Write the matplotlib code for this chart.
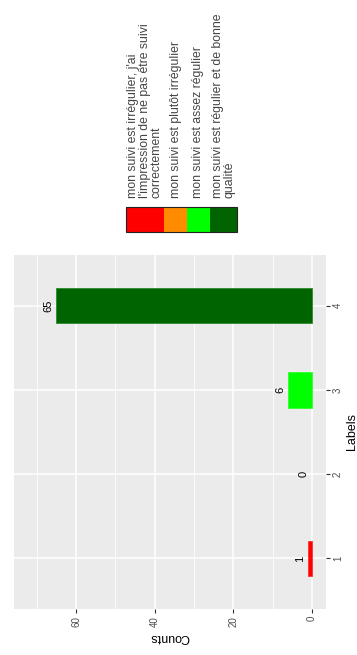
import matplotlib
matplotlib.use("Agg")
import matplotlib.pyplot as plt
from matplotlib.patches import Rectangle
from matplotlib.ticker import MultipleLocator

plt.rcParams['font.family'] = ['Liberation Sans', 'DejaVu Sans']

# data
labels = [1, 2, 3, 4]
counts = [1, 0, 6, 65]
bar_colors = ["#FF0000", "#FF8C00", "#00FF00", "#006400"]
legend_texts = [
    "mon suivi est irrégulier, j'ai\nl'impression de ne pas être suivi\ncorrectement",
    "mon suivi est plutôt irrégulier",
    "mon suivi est assez régulier",
    "mon suivi est régulier et de bonne\nqualité",
]

W, H = 357, 655
fig = plt.figure(figsize=(W / 100, H / 100), dpi=100)

# panel (the whole ggplot is turned a quarter turn, so counts run right -> left)
px0, px1, py0, py1 = 14, 326, 255, 609
ax = fig.add_axes([px0 / W, 1 - py1 / H, (px1 - px0) / W, (py1 - py0) / H])
ax.set_facecolor("#EBEBEB")
edges = ["#FF3030", "none", "#30FF30", "#2E8B2E"]
ax.barh(labels, counts, height=0.42, color=bar_colors,
        edgecolor=edges, linewidth=0.6, zorder=3)
ax.set_xlim(75.8, -3.6)
ax.set_ylim(0.4, 4.6)
ax.xaxis.set_major_locator(MultipleLocator(20))
ax.xaxis.set_minor_locator(MultipleLocator(10))
ax.set_yticks(labels)
ax.grid(which="major", color="white", linewidth=1.1, zorder=1)
ax.grid(which="minor", axis="x", color="white", linewidth=0.55, zorder=1)
for s in ax.spines.values():
    s.set_visible(False)
ax.yaxis.tick_right()
ax.yaxis.set_label_position("right")
ax.tick_params(which="major", length=3, width=0.8, color="#333333",
               labelcolor="#4D4D4D", labelsize=7, pad=2)
ax.tick_params(which="minor", length=0)
for t in ax.get_xticklabels():
    t.set_rotation(90)
for t in ax.get_yticklabels():
    t.set_rotation(90)
    t.set_va("center")
ax.set_xlabel("Counts", rotation=180, fontsize=9, labelpad=3)
ax.set_ylabel("Labels", rotation=90, fontsize=9, labelpad=2)

for lab, c in zip(labels, counts):
    ax.annotate(str(c), xy=(c, lab), xytext=(-2, 0), textcoords="offset points",
                rotation=90, ha="right", va="center", fontsize=8, color="black",
                zorder=4)

# legend drawn in pixel coordinates
lax = fig.add_axes([0, 0, 1, 1], facecolor="none")
lax.set_xlim(0, W)
lax.set_ylim(H, 0)
lax.axis("off")
key_widths = [38, 23, 23, 27]
key_y0, key_y1 = 207, 232
x = 126
for col, txt, kw in zip(bar_colors, legend_texts, key_widths):
    lax.add_patch(Rectangle((x, key_y0), kw, key_y1 - key_y0, facecolor=col,
                            edgecolor="none"))
    lax.text(x + kw / 2, 198, txt, rotation=90, ha="center", va="bottom",
             multialignment="left", fontsize=8.8, color="#444444", linespacing=0.95)
    x += kw
lax.add_patch(Rectangle((126, key_y0), x - 126, key_y1 - key_y0, facecolor="none",
                        edgecolor="#222222", linewidth=0.8))

fig.savefig("out.png", dpi=100)
